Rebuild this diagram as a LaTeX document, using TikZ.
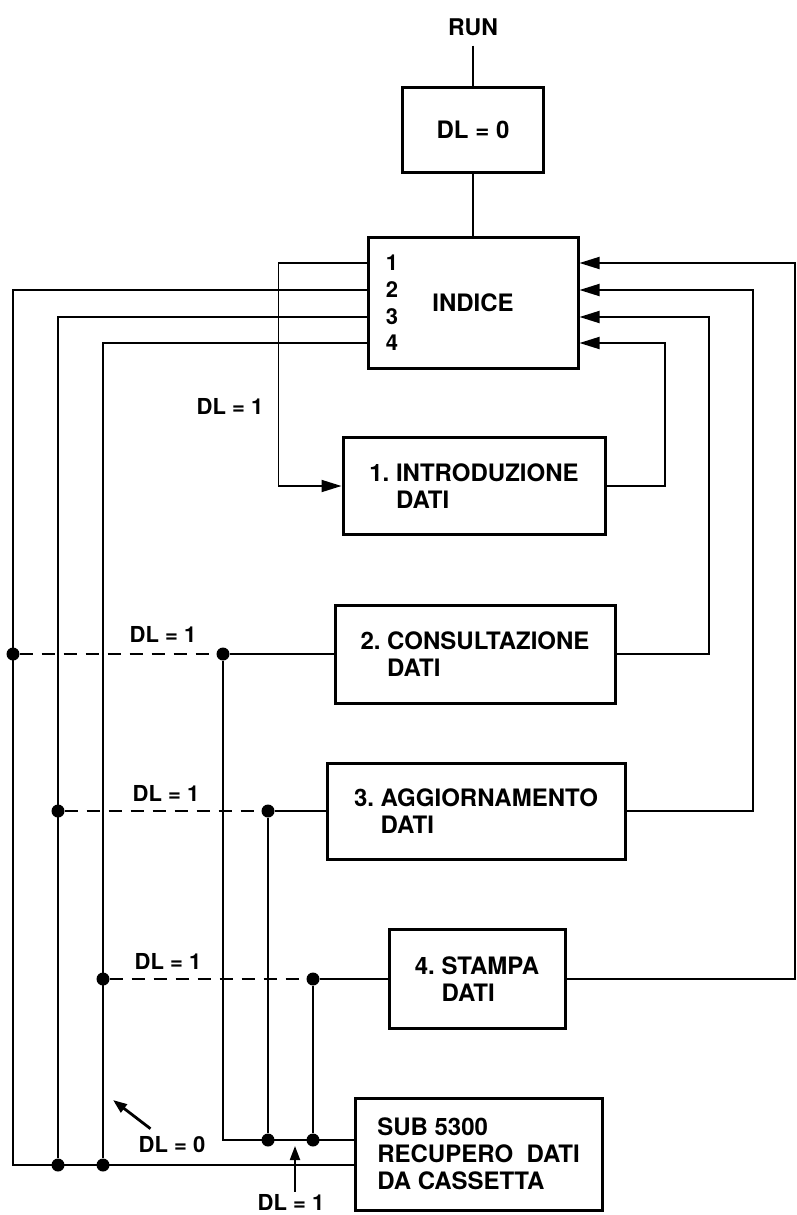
\documentclass[tikz,border=0pt]{standalone}
\usepackage{fontspec}
\setmainfont{TeX Gyre Heros}
\usetikzlibrary{arrows.meta,positioning}

\tikzset{
  blk/.style={draw,line width=3pt,inner sep=0pt,align=left,font=\fontsize{24}{27}\selectfont\bfseries},
  wire/.style={line width=1.8pt},
  dwire/.style={wire,dash pattern=on 13pt off 9pt},
  arr/.style={-{Triangle[length=20pt,width=12pt]}},
  ptr/.style={line width=2pt,-{Triangle[length=14pt,width=10pt]}},
  dot/.style={circle,fill,inner sep=0pt,minimum size=13pt},
  lbl/.style={inner sep=0pt,font=\fontsize{22}{25}\selectfont\bfseries},
}

\begin{document}
\begin{tikzpicture}[x=1pt,y=-1pt]
  \useasboundingbox (0,0) rectangle (796,1215);

  % boxes
  \node[lbl,font=\fontsize{23}{27}\selectfont\bfseries] (run) at (473,27) {RUN};
  \node[blk,minimum width=141pt,minimum height=85pt] (dl0) at (473,130) {DL = 0};
  \node[blk,minimum width=210pt,minimum height=131pt] (ind) at (473,302.5) {INDICE};
  \node[lbl] (n1) at (392,263) {1};
  \node[lbl] (n2) at (392,290) {2};
  \node[lbl] (n3) at (392,317) {3};
  \node[lbl] (n4) at (392,343) {4};

  \node[blk,minimum width=262pt,minimum height=97pt] (intro) at (474,486) {1.\ INTRODUZIONE\\\phantom{1.\ }DATI};
  \node[blk,minimum width=280pt,minimum height=98pt] (cons) at (475,654) {2.\ CONSULTAZIONE\\\phantom{2.\ }DATI};
  \node[blk,minimum width=298pt,minimum height=96pt] (agg) at (476,811) {3.\ AGGIORNAMENTO\\\phantom{3.\ }DATI};
  \node[blk,minimum width=176pt,minimum height=99pt] (stampa) at (477,979) {4.\ STAMPA\\\phantom{4.\ }DATI};
  \node[blk,minimum width=247pt,minimum height=112pt] (sub) at (478.5,1154) {SUB 5300\\RECUPERO\ \ DATI\\DA CASSETTA};

  % bus corners and junctions
  \coordinate (lo) at (13,1165);
  \coordinate (li) at (0,1140);
  \coordinate (r1) at (665,0);
  \coordinate (r2) at (709,0);
  \coordinate (r3) at (753,0);
  \coordinate (r4) at (795,0);
  \node[dot] (a2) at (13,654) {};
  \node[dot] (a3) at (58,811) {};
  \node[dot] (a4) at (103,979) {};
  \node[dot] (c2) at (223,654) {};
  \node[dot] (c3) at (268,811) {};
  \node[dot] (c4) at (313,979) {};
  \node[dot] (g3) at (58,1165) {};
  \node[dot] (g4) at (103,1165) {};
  \node[dot] (h3) at (268,1140) {};
  \node[dot] (h4) at (313,1140) {};

  \draw[wire,shorten <=10pt] (run) -- (dl0);
  \draw[wire] (dl0) -- (ind);

  % exits of the index
  \draw[wire,arr] (ind.west |- n1) -- ++(-88,0) |- (intro.west);
  \draw[wire] (ind.west |- n2) -| (lo) -- (sub.west |- lo);
  \draw[wire] (ind.west |- n3) -| (g3);
  \draw[wire] (ind.west |- n4) -| (g4);

  \draw[dwire] (a2) -- (c2);
  \draw[wire] (c2) -- (cons);
  \draw[wire] (c2) |- (sub.west |- li);
  \draw[dwire] (a3) -- (c3);
  \draw[wire] (c3) -- (agg);
  \draw[wire] (c3) -- (h3);
  \draw[dwire] (a4) -- (c4);
  \draw[wire] (c4) -- (stampa);
  \draw[wire] (c4) -- (h4);

  % back to the index
  \draw[wire,arr] (intro.east) -| (r1 |- n4) -- (ind.east |- n4);
  \draw[wire,arr] (cons.east) -| (r2 |- n3) -- (ind.east |- n3);
  \draw[wire,arr] (agg.east) -| (r3 |- n2) -- (ind.east |- n2);
  \draw[wire,arr] (stampa.east) -| (r4 |- n1) -- (ind.east |- n1);

  % labels
  \node[lbl] (k1) at (230,406) {DL = 1};
  \node[lbl] (k2) at (163,634) {DL = 1};
  \node[lbl] (k3) at (166,793) {DL = 1};
  \node[lbl] (k4) at (168,961) {DL = 1};
  \node[lbl] (k5) at (172,1145) {DL = 0};
  \node[lbl] (k6) at (291,1202) {DL = 1};
  \coordinate (t5) at (113,1100);
  \coordinate (t6) at (295,1146);
  \draw[ptr,line width=2.8pt] ([xshift=12pt,yshift=8pt]k5.north west) -- (t5);
  \draw[ptr] ([xshift=4pt,yshift=2pt]k6.north) -- (t6);
\end{tikzpicture}
\end{document}
